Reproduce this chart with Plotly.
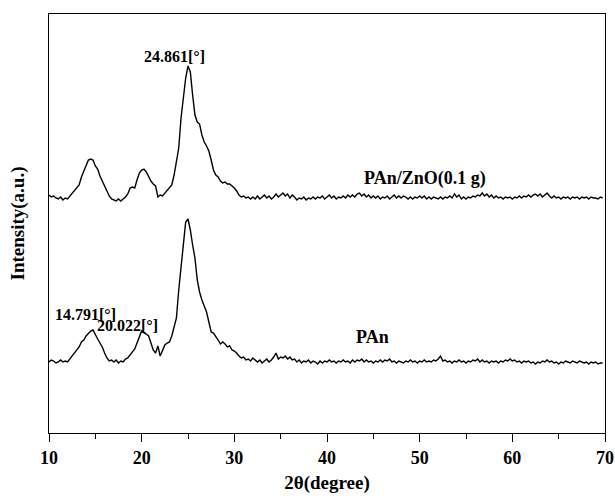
import numpy as np
import plotly.graph_objects as go

# Step scan: 2theta starts at 10 deg, 0.25 deg step
TWO_THETA_START = 10.0
TWO_THETA_STEP = 0.25

# PAn/ZnO(0.1 g) intensity (a.u., includes vertical offset), 4 values per degree
pan_zno = [
    238, 236, 237, 235,   # 10
    234, 236, 233, 235,   # 11
    234, 237, 239, 242,   # 12
    246, 248, 256, 262,   # 13
    268, 273, 274, 273,   # 14
    267, 264, 257, 252,   # 15
    247, 242, 237, 234,   # 16
    233, 232, 234, 232,   # 17
    234, 236, 239, 245,   # 18
    246, 245, 253, 260,   # 19
    263, 264, 261, 256,   # 20
    252, 249, 247, 236,   # 21
    238, 237, 240, 242,   # 22
    245, 248, 258, 271,   # 23
    285, 315, 337, 355,   # 24
    367, 361, 338, 318,   # 25
    311, 309, 298, 291,   # 26
    287, 282, 273, 263,   # 27
    258, 256, 252, 250,   # 28
    251, 249, 249, 247,   # 29
    245, 242, 238, 236,   # 30
    237, 235, 236, 234,   # 31
    236, 234, 237, 234,   # 32
    236, 238, 235, 237,   # 33
    234, 236, 239, 236,   # 34
    238, 240, 237, 239,   # 35
    235, 238, 236, 233,   # 36
    235, 234, 236, 233,   # 37
    235, 234, 236, 234,   # 38
    236, 235, 237, 234,   # 39
    236, 238, 235, 237,   # 40
    234, 236, 235, 237,   # 41
    235, 238, 236, 238,   # 42
    236, 239, 240, 237,   # 43
    239, 236, 238, 235,   # 44
    237, 235, 237, 234,   # 45
    236, 235, 237, 234,   # 46
    236, 238, 235, 237,   # 47
    235, 237, 236, 234,   # 48
    236, 234, 236, 235,   # 49
    237, 235, 237, 234,   # 50
    236, 234, 236, 235,   # 51
    234, 236, 234, 236,   # 52
    235, 237, 235, 239,   # 53
    236, 238, 234, 236,   # 54
    234, 236, 235, 237,   # 55
    236, 238, 237, 240,   # 56
    237, 239, 236, 238,   # 57
    235, 237, 235, 236,   # 58
    234, 236, 235, 236,   # 59
    234, 236, 235, 237,   # 60
    235, 237, 236, 238,   # 61
    236, 238, 239, 237,   # 62
    239, 236, 238, 240,   # 63
    237, 235, 237, 235,   # 64
    236, 234, 236, 235,   # 65
    236, 234, 236, 235,   # 66
    236, 234, 236, 235,   # 67
    236, 234, 236, 235,   # 68
    235, 234, 236, 235,   # 69
]

# PAn intensity (a.u.), 4 values per degree
pan = [
    71, 73, 72, 70,       # 10
    71, 73, 71, 72,       # 11
    71, 74, 77, 80,       # 12
    84, 86, 91, 93,       # 13
    97, 100, 102, 103,    # 14
    98, 94, 90, 86,       # 15
    80, 75, 72, 73,       # 16
    71, 73, 70, 72,       # 17
    71, 74, 75, 78,       # 18
    80, 84, 90, 97,       # 19
    102, 100, 99, 97,     # 20
    91, 83, 80, 87,       # 21
    77, 83, 88, 90,       # 22
    91, 97, 105, 115,     # 23
    143, 167, 193, 211,   # 24
    214, 203, 188, 175,   # 25
    153, 141, 133, 126,   # 26
    121, 111, 101, 100,   # 27
    97, 93, 89, 91,       # 28
    89, 86, 87, 83,       # 29
    82, 80, 77, 75,       # 30
    76, 73, 74, 72,       # 31
    75, 73, 71, 73,       # 32
    70, 72, 74, 71,       # 33
    73, 76, 80, 74,       # 34
    76, 75, 77, 74,       # 35
    76, 73, 74, 71,       # 36
    73, 70, 72, 71,       # 37
    73, 70, 72, 71,       # 38
    69, 72, 70, 72,       # 39
    71, 73, 71, 72,       # 40
    70, 72, 71, 73,       # 41
    71, 72, 70, 73,       # 42
    71, 73, 72, 74,       # 43
    71, 73, 71, 72,       # 44
    70, 72, 71, 73,       # 45
    71, 73, 72, 74,       # 46
    71, 72, 70, 72,       # 47
    71, 70, 72, 71,       # 48
    73, 71, 72, 70,       # 49
    72, 71, 73, 71,       # 50
    72, 71, 73, 72,       # 51
    74, 77, 72, 73,       # 52
    71, 72, 70, 72,       # 53
    71, 73, 71, 72,       # 54
    70, 72, 71, 73,       # 55
    72, 74, 71, 73,       # 56
    71, 72, 70, 72,       # 57
    71, 72, 70, 72,       # 58
    71, 73, 72, 74,       # 59
    72, 73, 71, 72,       # 60
    70, 72, 71, 72,       # 61
    70, 71, 69, 71,       # 62
    70, 72, 71, 73,       # 63
    71, 72, 70, 71,       # 64
    69, 71, 70, 72,       # 65
    71, 70, 72, 71,       # 66
    70, 72, 71, 70,       # 67
    71, 69, 71, 70,       # 68
    71, 69, 70, 70,       # 69
]

x_ticks = [10, 20, 30, 40, 50, 60, 70]

peak_labels = ["24.861[°]", "14.791[°]", "20.022[°]"]
peak_label_pos = [(23.55, 377), (13.9, 119), (18.45, 108)]
sample_labels = ["PAn/ZnO(0.1 g)", "PAn"]
sample_label_pos = [(50.6, 255), (44.9, 96)]

x_upper = TWO_THETA_START + TWO_THETA_STEP * np.arange(len(pan_zno))
x_lower = TWO_THETA_START + TWO_THETA_STEP * np.arange(len(pan))

FONT = "Liberation Serif"

fig = go.Figure()
fig.add_trace(go.Scatter(x=x_upper, y=pan_zno, mode="lines",
                         line=dict(color="black", width=1.4), showlegend=False))
fig.add_trace(go.Scatter(x=x_lower, y=pan, mode="lines",
                         line=dict(color="black", width=1.4), showlegend=False))

for txt, (xx, yy) in zip(peak_labels, peak_label_pos):
    fig.add_annotation(x=xx, y=yy, text=txt, showarrow=False,
                       font=dict(family=FONT, size=16, color="black", weight="bold"))
for txt, (xx, yy) in zip(sample_labels, sample_label_pos):
    fig.add_annotation(x=xx, y=yy, text=txt, showarrow=False,
                       font=dict(family=FONT, size=18, color="black", weight="bold"))

fig.update_layout(
    width=615, height=496,
    margin=dict(l=49, r=10, t=14, b=63),
    paper_bgcolor="white", plot_bgcolor="white",
    font=dict(family=FONT, color="black"),
    xaxis=dict(
        range=[10, 70], tickvals=x_ticks, ticktext=[str(t) for t in x_ticks],
        ticks="outside", ticklen=8, tickwidth=1.4, tickcolor="black",
        minor=dict(dtick=5, tick0=10, ticks="outside", ticklen=5, tickwidth=1.4, tickcolor="black"),
        showline=True, linecolor="black", linewidth=1.4, mirror=True,
        showgrid=False, zeroline=False,
        tickfont=dict(family=FONT, size=18, color="black", weight="bold"),
        title=dict(text="2θ(degree)", standoff=8,
                   font=dict(family=FONT, size=19, color="black", weight="bold")),
        automargin=False,
    ),
    yaxis=dict(
        range=[0, 419], showticklabels=False, ticks="",
        showline=True, linecolor="black", linewidth=1.4, mirror=True,
        showgrid=False, zeroline=False,
        title=dict(text="Intensity(a.u.)", standoff=18,
                   font=dict(family=FONT, size=19, color="black", weight="bold")),
        automargin=False,
    ),
)

fig.write_html("out.html")
